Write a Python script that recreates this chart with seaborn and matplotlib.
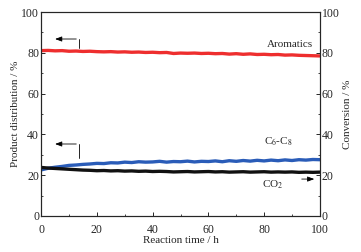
import numpy as np
import pandas as pd
import matplotlib
matplotlib.use("Agg")
import matplotlib.pyplot as plt
import seaborn as sns
from matplotlib.ticker import MultipleLocator

sns.set_style("ticks")
plt.rcParams["font.family"] = ["Liberation Serif", "DejaVu Serif"]
plt.rcParams["mathtext.fontset"] = "stix"

# reaction time (h), every 2.5 h
time_h = [0, 2.5, 5, 7.5, 10, 12.5, 15, 17.5, 20, 22.5, 25, 27.5, 30, 32.5, 35, 37.5, 40,
          42.5, 45, 47.5, 50, 52.5, 55, 57.5, 60, 62.5, 65, 67.5, 70, 72.5, 75, 77.5, 80,
          82.5, 85, 87.5, 90, 92.5, 95, 97.5, 100]

aromatics = [81.1, 81.2, 81.0, 81.1, 80.8, 80.9, 80.7, 80.8, 80.6, 80.5, 80.6, 80.4, 80.5,
             80.3, 80.4, 80.2, 80.3, 80.1, 80.2, 79.7, 79.9, 79.8, 79.9, 79.7, 79.8, 79.6,
             79.7, 79.4, 79.6, 79.3, 79.5, 79.2, 79.3, 79.1, 79.2, 78.9, 79.0, 78.8, 78.7,
             78.6, 78.5]

c6_c8 = [22.6, 23.4, 23.9, 24.3, 24.8, 25.0, 25.3, 25.5, 25.8, 25.7, 26.1, 26.0, 26.4,
         26.2, 26.6, 26.4, 26.5, 26.8, 26.4, 26.7, 26.6, 26.9, 26.5, 26.8, 26.7, 27.0,
         26.6, 27.1, 26.8, 27.2, 26.9, 27.3, 27.0, 27.4, 27.1, 27.5, 27.2, 27.6, 27.4,
         27.7, 27.6]

co2 = [23.8, 23.5, 23.3, 23.1, 22.9, 22.7, 22.5, 22.4, 22.2, 22.3, 22.1, 22.2, 22.0,
       22.1, 21.9, 22.0, 21.8, 21.9, 21.8, 21.6, 21.7, 21.8, 21.6, 21.7, 21.8, 21.6,
       21.7, 21.5, 21.6, 21.7, 21.5, 21.6, 21.7, 21.5, 21.6, 21.5, 21.6, 21.4, 21.5,
       21.4, 21.5]

df = pd.DataFrame({"time": time_h * 3,
                   "value": aromatics + c6_c8 + co2,
                   "series": ["Aromatics"] * len(time_h) + ["C6-C8"] * len(time_h)
                             + ["CO2"] * len(time_h)})

fig, ax = plt.subplots(figsize=(3.61, 2.52), dpi=100)
fig.subplots_adjust(left=0.114, right=0.886, top=0.952, bottom=0.143)

sns.lineplot(data=df, x="time", y="value", hue="series",
             palette={"Aromatics": "#ee2e2e", "C6-C8": "#2a5cb8", "CO2": "#111111"},
             linewidth=2.4, legend=False, ax=ax)

ax.set_xlim(0, 100)
ax.set_ylim(0, 100)
ax.set_xlabel("Reaction time / h", fontsize=8, labelpad=0.5)
ax.set_ylabel("Product distribution / %", fontsize=8, labelpad=1)

ax2 = ax.twinx()
ax2.set_ylim(0, 100)
ax2.set_ylabel("Conversion / %", fontsize=8, labelpad=2)

for a in (ax, ax2):
    a.xaxis.set_major_locator(MultipleLocator(20))
    a.xaxis.set_minor_locator(MultipleLocator(10))
    a.yaxis.set_major_locator(MultipleLocator(20))
    a.yaxis.set_minor_locator(MultipleLocator(10))
    a.tick_params(which="major", direction="in", length=3, width=0.7, labelsize=8.5, pad=1.5)
    a.tick_params(which="minor", direction="in", length=1.5, width=0.6)
    for s in a.spines.values():
        s.set_linewidth(0.8)
ax.tick_params(axis="x", which="both", top=False, pad=5.5)
ax2.tick_params(axis="y", which="both", left=False)

arrow = dict(arrowstyle="-|>,head_length=0.4,head_width=0.15", color="black", lw=0.6)
# left-pointing arrows (left axis)
ax.plot([13.6, 13.6], [82.4, 86.8], color="black", lw=0.6)
ax.annotate("", xy=(4, 86.8), xytext=(13.6, 86.8), arrowprops=arrow)
ax.plot([13.6, 13.6], [28.4, 35.3], color="black", lw=0.6)
ax.annotate("", xy=(4, 35.3), xytext=(13.6, 35.3), arrowprops=arrow)
# right-pointing arrow (right axis)
ax.annotate("", xy=(99, 18.1), xytext=(92.5, 18.1), arrowprops=arrow)

ax.text(97.5, 84.3, "Aromatics", fontsize=8, ha="right", va="center")
ax.text(85, 36.5, "C$_6$-C$_8$", fontsize=8, ha="center", va="center")
ax.text(83, 15.5, "CO$_2$", fontsize=8, ha="center", va="center")

fig.savefig("out.png", dpi=100)
